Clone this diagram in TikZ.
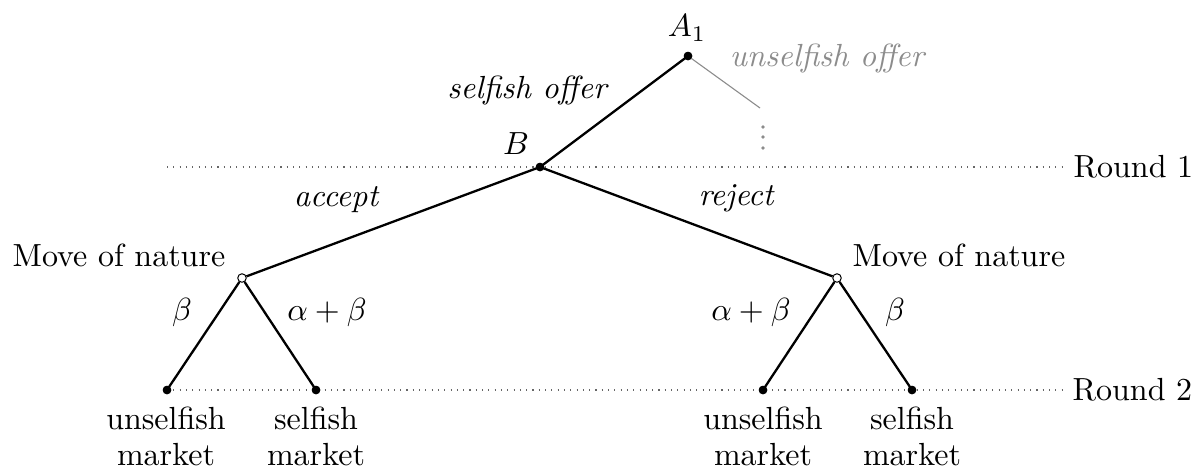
\documentclass[tikz,border=0pt]{standalone}
\begin{document}
\begin{tikzpicture}[x=1pt,y=-1pt,
  txt/.style={inner sep=0pt, scale=3.2},
  edge/.style={line width=2.3pt},
  soft/.style={line width=1.1pt, black!45},
  rounddots/.style={line width=1.1pt, black!60, dash pattern=on 1.1pt off 5.2pt},
  full/.style={circle, fill=black, inner sep=0pt, minimum size=8.5pt},
  hollow/.style={circle, draw=black, fill=white, inner sep=0pt, line width=1pt, minimum size=8.5pt},
  softdot/.style={circle, fill=black!45, inner sep=0pt, minimum size=3.6pt},
  lab/.style={txt, font=\itshape},
  leaf/.style={txt, align=center, anchor=north, font=\fontsize{10}{11.2}\selectfont}]
\useasboundingbox (0,0) rectangle (1202,472);
% rounds
\coordinate (r1s) at (167,167);
\coordinate (r1e) at (1062,167);
\coordinate (r2s) at (167,390);
\coordinate (r2e) at (1062,390);
\draw[rounddots] (r1s) -- (r1e);
\draw[rounddots] (r2s) -- (r2e);
\node[txt, anchor=west] (round1) at (1073,167) {Round 1};
\node[txt, anchor=west] (round2) at (1072,390) {Round 2};
% nodes
\node[full] (a1) at (688,56) {};
\node[full] (b) at (540,167) {};
\node[hollow] (nl) at (242,278) {};
\node[hollow] (nr) at (837,278) {};
\node[full] (l1) at (167,390) {};
\node[full] (l2) at (316,390) {};
\node[full] (l3) at (763,390) {};
\node[full] (l4) at (912,390) {};
\coordinate (u) at (760,108);
% edges
\draw[soft] (a1.center) -- (u);
\draw[edge] (a1.center) -- (b.center);
\draw[edge] (b.center) -- (nl);
\draw[edge] (b.center) -- (nr);
\draw[edge] (nl) -- (l1.center);
\draw[edge] (nl) -- (l2.center);
\draw[edge] (nr) -- (l3.center);
\draw[edge] (nr) -- (l4.center);
\node[full] at (a1) {};
\node[full] at (b) {};
\node[full] at (l1) {};
\node[full] at (l2) {};
\node[full] at (l3) {};
\node[full] at (l4) {};
% vertical dots
\node[softdot] (d1) at (763,127) {};
\node[softdot] (d2) at (763,137) {};
\node[softdot] (d3) at (763,148) {};
% labels
\node[txt] (la1) at (687,28) {$A_1$};
\node[txt] (lb) at (516,144) {$B$};
\node[lab] (lsel) at (527,90) {selfish offer};
\node[lab, text=black!45] (luns) at (827,58) {unselfish offer};
\node[lab] (lacc) at (336,200) {accept};
\node[lab] (lrej) at (736,198) {reject};
\node[txt] (mnl) at (119,255) {Move of nature};
\node[txt] (mnr) at (959,255) {Move of nature};
\node[txt] (b1) at (182,312) {$\beta$};
\node[txt] (ab1) at (327,312) {$\alpha+\beta$};
\node[txt] (ab2) at (751,312) {$\alpha+\beta$};
\node[txt] (b2) at (895,312) {$\beta$};
\node[leaf] (t1) at (166,406) {unselfish\\market};
\node[leaf] (t2) at (316,406) {selfish\\market};
\node[leaf] (t3) at (763,406) {unselfish\\market};
\node[leaf] (t4) at (912,406) {selfish\\market};
\end{tikzpicture}
\end{document}
